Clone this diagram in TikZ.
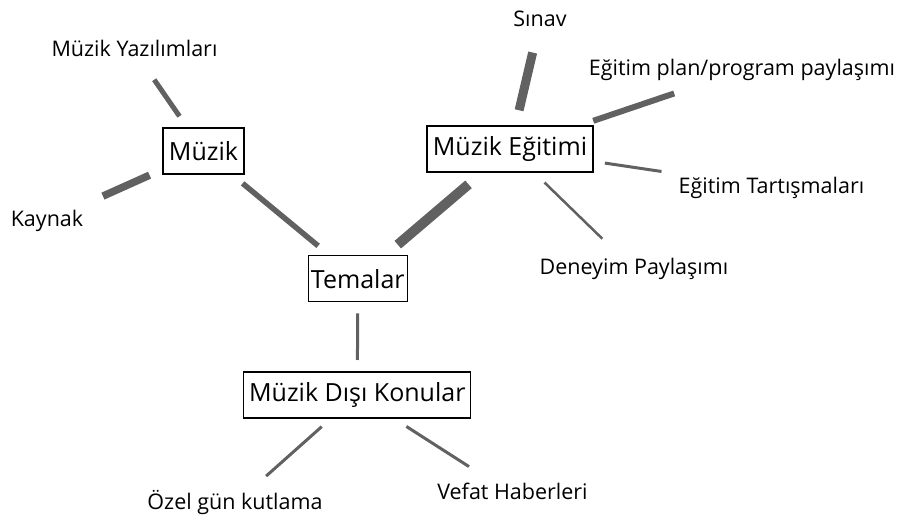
\documentclass[tikz,border=0pt]{standalone}
\usepackage{fontspec}
\setmainfont{Open Sans}
\begin{document}
\begin{tikzpicture}[x=1pt,y=-1pt,
  box/.style={draw=black,line width=1.3pt,inner sep=0pt,minimum height=46pt,font=\fontsize{25}{28}\selectfont},
  lbl/.style={inner sep=0pt,anchor=base,text height=15.5pt,text depth=4.5pt,font=\fontsize{21.5}{24}\selectfont},
  con/.style={draw=black!62,line cap=butt}]
\useasboundingbox (0,0) rectangle (906,518);
\node[box,minimum width=81pt] (M) at (203.5,151) {Müzik};
\node[box,minimum width=166pt] (E) at (510,149) {Müzik Eğitimi};
\node[box,minimum width=99pt] (T) at (357.8,278.7) {Temalar};
\node[box,minimum width=227pt] (D) at (357.3,395) {Müzik Dışı Konular};
\node[lbl] (Y) at (134.5,56.7) {Müzik Yazılımları};
\node[lbl] (K) at (47,226.7) {Kaynak};
\node[lbl] (S) at (540,26.7) {Sınav};
\node[lbl] (P) at (742,76) {Eğitim plan/program paylaşımı};
\node[lbl] (Ta) at (771.5,193.3) {Eğitim Tartışmaları};
\node[lbl] (Dn) at (634,275) {Deneyim Paylaşımı};
\node[lbl] (O) at (235,509.3) {Özel gün kutlama};
\node[lbl] (V) at (512.5,500) {Vefat Haberleri};
\draw[con,line width=10pt,shorten <=52.5pt,shorten >=54.5pt] (T.center) -- (E.center);
\draw[con,line width=5.5pt,shorten <=50.8pt,shorten >=51.5pt] (M.center) -- (T.center);
\draw[con,line width=5pt,shorten <=42.2pt,shorten >=34.7pt] (M.center) -- (Y.center);
\draw[con,line width=7.5pt,shorten <=59.1pt,shorten >=61.3pt] (M.center) -- (K.center);
\draw[con,line width=9pt,shorten <=39.8pt,shorten >=32.2pt] (E.center) -- (S.center);
\draw[con,line width=6pt,shorten <=87.9pt,shorten >=71.6pt] (E.center) -- (P.center);
\draw[con,line width=3pt,shorten <=95.9pt,shorten >=111.2pt] (E.center) -- (Ta.center);
\draw[con,line width=2.5pt,shorten <=48.1pt,shorten >=44.2pt] (E.center) -- (Dn.center);
\draw[con,line width=3pt,shorten <=34.6pt,shorten >=35pt] (T.center) -- (D.center);
\draw[con,line width=3pt,shorten <=47.6pt,shorten >=41.7pt] (D.center) -- (O.center);
\draw[con,line width=3pt,shorten <=58.3pt,shorten >=51.7pt] (D.center) -- (V.center);
\end{tikzpicture}
\end{document}
